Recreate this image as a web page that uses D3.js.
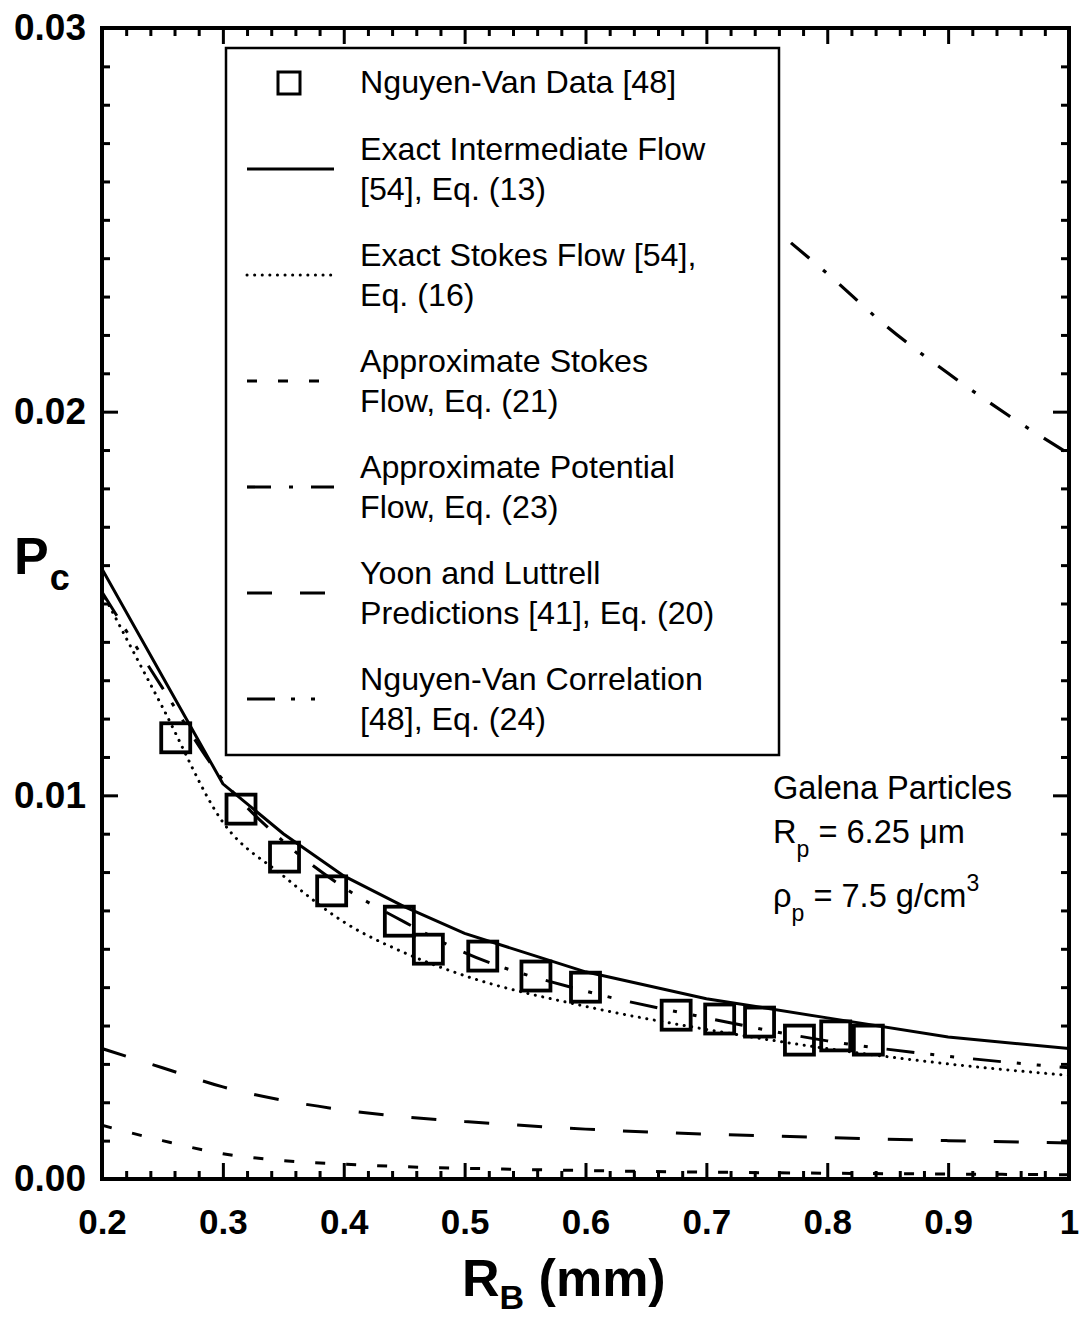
<!DOCTYPE html>
<html>
<head>
<meta charset="utf-8">
<script src="https://cdn.jsdelivr.net/npm/d3@7"></script>
<style>
  html, body { margin: 0; padding: 0; background: #fff; }
  svg { display: block; font-family: "Liberation Sans", Arial, sans-serif; }
</style>
</head>
<body>
<div id="container"></div>
<script>
// chart size
const width = 1084;
const height = 1317;

// bubble radius R_B (mm) where the curves are read
const rbGrid = [0.2, 0.25, 0.3, 0.35, 0.4, 0.45, 0.5, 0.6, 0.7, 0.8, 0.9, 1.0];

// P_c values, one per rbGrid entry
const exactIntermediate = [0.0159, 0.0131, 0.0103, 0.0090, 0.0079, 0.0071, 0.0064, 0.0054, 0.0047, 0.0042, 0.0037, 0.0034];
const exactStokes       = [0.0153, 0.0123, 0.0093, 0.0079, 0.0067, 0.0059, 0.0053, 0.0045, 0.0039, 0.0034, 0.0030, 0.0027];
const approxStokes      = [0.0014, 0.0010, 0.00066, 0.00048, 0.00039, 0.00032, 0.00028, 0.00022, 0.00018, 0.00015, 0.00013, 0.00011];
const yoonLuttrell      = [0.0034, 0.0029, 0.0024, 0.00205, 0.0018, 0.00162, 0.0015, 0.0013, 0.00117, 0.00108, 0.0010, 0.00094];
const nguyenCorrelation = [0.0153, 0.0128, 0.0104, 0.0088, 0.0076, 0.0067, 0.0059, 0.0049, 0.0042, 0.0036, 0.0032, 0.0029];

// approximate potential flow only shows up in the top right corner
const rbPotential = [0.77, 0.8, 0.85, 0.9, 0.95, 1.0];
const approxPotential = [0.0244, 0.0236, 0.0222, 0.0210, 0.0199, 0.0189];

// Nguyen-Van experimental points
const dataRb = [0.261, 0.315, 0.351, 0.390, 0.446, 0.470, 0.515, 0.559, 0.600, 0.675, 0.711, 0.744, 0.777, 0.807, 0.834];
const dataPc = [0.0115, 0.00964, 0.00839, 0.00751, 0.00672, 0.00599, 0.00581, 0.00529, 0.00500, 0.00427, 0.00417, 0.00409, 0.00362, 0.00373, 0.00362];

// axis ticks
const xTicks = [0.2, 0.3, 0.4, 0.5, 0.6, 0.7, 0.8, 0.9, 1.0];
const xTickLabels = ['0.2', '0.3', '0.4', '0.5', '0.6', '0.7', '0.8', '0.9', '1'];
const yTicks = [0, 0.01, 0.02, 0.03];
const yTickLabels = ['0.00', '0.01', '0.02', '0.03'];

// legend entries
const legendLabels = [
  ['Nguyen-Van Data [48]'],
  ['Exact Intermediate Flow', '[54], Eq. (13)'],
  ['Exact Stokes Flow [54],', 'Eq. (16)'],
  ['Approximate Stokes', 'Flow, Eq. (21)'],
  ['Approximate Potential', 'Flow, Eq. (23)'],
  ['Yoon and Luttrell', 'Predictions [41], Eq. (20)'],
  ['Nguyen-Van Correlation', '[48], Eq. (24)']
];

// plot frame
const plotLeft = 102, plotRight = 1069, plotTop = 28, plotBottom = 1179;

const x = d3.scaleLinear().domain([0.2, 1.0]).range([plotLeft, plotRight]);
const y = d3.scaleLinear().domain([0, 0.03]).range([plotBottom, plotTop]);

const svg = d3.select('#container')
  .append('svg')
  .attr('width', width)
  .attr('height', height);

// line styles (dash patterns)
const styles = {
  solid:   { dash: null, cap: 'butt', w: 3 },
  dotted:  { dash: '0.1,7.5', cap: 'round', w: 3 },
  short:   { dash: '10,21', cap: 'butt', w: 3 },
  dashDot: { dash: '24,18,4,18', cap: 'butt', w: 3.2 },
  long:    { dash: '25,28', cap: 'butt', w: 3 },
  dashDotDot: { dash: '28,16,4,16,4,19', cap: 'butt', w: 3 }
};

const series = [
  { xs: rbGrid, ys: exactIntermediate, s: styles.solid },
  { xs: rbGrid, ys: exactStokes, s: styles.dotted },
  { xs: rbGrid, ys: approxStokes, s: styles.short },
  { xs: rbPotential, ys: approxPotential, s: styles.dashDot },
  { xs: rbGrid, ys: yoonLuttrell, s: styles.long },
  { xs: rbGrid, ys: nguyenCorrelation, s: styles.dashDotDot }
];

svg.append('clipPath').attr('id', 'plotclip')
  .append('rect')
  .attr('x', plotLeft).attr('y', plotTop)
  .attr('width', plotRight - plotLeft).attr('height', plotBottom - plotTop);

const plot = svg.append('g').attr('clip-path', 'url(#plotclip)');

series.forEach((d, i) => {
  const pts = d.xs.map((v, j) => [v, d.ys[j]]);
  const line = d3.line()
    .x(p => x(p[0]))
    .y(p => y(p[1]))
    .curve(i === 0 ? d3.curveLinear : d3.curveMonotoneX);
  plot.append('path')
    .attr('d', line(pts))
    .attr('fill', 'none')
    .attr('stroke', '#000')
    .attr('stroke-width', d.s.w)
    .attr('stroke-linecap', d.s.cap)
    .attr('stroke-dasharray', d.s.dash);
});

// data squares
const sq = 29;
plot.selectAll('.pt')
  .data(dataRb.map((v, i) => [v, dataPc[i]]))
  .enter().append('rect')
  .attr('class', 'pt')
  .attr('x', d => x(d[0]) - sq / 2)
  .attr('y', d => y(d[1]) - sq / 2)
  .attr('width', sq)
  .attr('height', sq)
  .attr('fill', 'none')
  .attr('stroke', '#000')
  .attr('stroke-width', 3.8);

// ticks on all four sides, pointing inward
const xMinor = d3.range(0.2, 1.0001, 0.02).filter(v => Math.abs(Math.round(v * 10) - v * 10) > 1e-6);
const yMinor = d3.range(0, 0.03001, 0.001).filter(v => Math.abs(Math.round(v * 100) - v * 100) > 1e-6);

function tickAxis(gen, scale, values, size, transform) {
  const g = svg.append('g')
    .attr('transform', transform)
    .call(gen(scale).tickValues(values).tickSize(-size).tickFormat(''));
  g.select('.domain').remove();
  g.selectAll('line').attr('stroke-width', 3);
  return g;
}

tickAxis(d3.axisBottom, x, xMinor, 8, `translate(0,${plotBottom})`);
tickAxis(d3.axisTop, x, xMinor, 8, `translate(0,${plotTop})`);
tickAxis(d3.axisLeft, y, yMinor, 8, `translate(${plotLeft},0)`);
tickAxis(d3.axisRight, y, yMinor, 8, `translate(${plotRight},0)`);
tickAxis(d3.axisTop, x, xTicks, 16, `translate(0,${plotTop})`);
tickAxis(d3.axisRight, y, yTicks, 16, `translate(${plotRight},0)`);

// labelled axes
const xAxis = svg.append('g')
  .attr('transform', `translate(0,${plotBottom})`)
  .call(d3.axisBottom(x).tickValues(xTicks).tickSize(-16).tickPadding(30)
    .tickFormat((d, i) => xTickLabels[i]));
xAxis.select('.domain').remove();
xAxis.selectAll('line').attr('stroke-width', 3);
xAxis.selectAll('text')
  .attr('font-size', 35).attr('font-weight', 'bold')
  .attr('font-family', '"Liberation Sans", Arial, sans-serif')
  .attr('fill', '#000');

const yAxis = svg.append('g')
  .attr('transform', `translate(${plotLeft},0)`)
  .call(d3.axisLeft(y).tickValues(yTicks).tickSize(-16).tickPadding(16)
    .tickFormat((d, i) => yTickLabels[i]));
yAxis.select('.domain').remove();
yAxis.selectAll('line').attr('stroke-width', 3);
yAxis.selectAll('text')
  .attr('font-size', 37).attr('font-weight', 'bold')
  .attr('font-family', '"Liberation Sans", Arial, sans-serif')
  .attr('fill', '#000');

// frame
svg.append('rect')
  .attr('x', plotLeft).attr('y', plotTop)
  .attr('width', plotRight - plotLeft).attr('height', plotBottom - plotTop)
  .attr('fill', 'none')
  .attr('stroke', '#000')
  .attr('stroke-width', 4);

// axis titles
const xt = svg.append('text')
  .attr('x', 462).attr('y', 1296)
  .attr('font-size', 52).attr('font-weight', 'bold');
xt.append('tspan').text('R');
xt.append('tspan').attr('font-size', 34).attr('dy', 13).text('B');
xt.append('tspan').attr('dy', -13).text(' (mm)');

const yt = svg.append('text')
  .attr('x', 14).attr('y', 574)
  .attr('font-size', 52).attr('font-weight', 'bold');
yt.append('tspan').text('P');
yt.append('tspan').attr('font-size', 36).attr('dy', 16).attr('dx', 1).text('c');

// legend
const legend = svg.append('g');
legend.append('rect')
  .attr('x', 226).attr('y', 48)
  .attr('width', 779 - 226).attr('height', 755 - 48)
  .attr('fill', '#fff')
  .attr('stroke', '#000')
  .attr('stroke-width', 2.5);

const legendStyles = [null, styles.solid, styles.dotted, styles.short, styles.dashDot, styles.long, styles.dashDotDot];

legendLabels.forEach((lines, i) => {
  const base = i === 0 ? 93 : 160 + (i - 1) * 106;
  const sy = i === 0 ? 83 : base + 9;
  if (i === 0) {
    legend.append('rect')
      .attr('x', 289 - 11).attr('y', sy - 11)
      .attr('width', 22).attr('height', 22)
      .attr('fill', 'none').attr('stroke', '#000').attr('stroke-width', 3);
  } else {
    const s = legendStyles[i];
    legend.append('line')
      .attr('x1', 247).attr('x2', 334)
      .attr('y1', sy).attr('y2', sy)
      .attr('stroke', '#000')
      .attr('stroke-width', s.w)
      .attr('stroke-linecap', s.cap)
      .attr('stroke-dasharray', s.dash);
  }
  lines.forEach((t, k) => {
    legend.append('text')
      .attr('x', 360).attr('y', base + k * 40)
      .attr('font-size', 32.2)
      .text(t);
  });
});

// annotation
svg.append('text').attr('x', 773).attr('y', 799).attr('font-size', 32.6).text('Galena Particles');

const rp = svg.append('text').attr('x', 773).attr('y', 843).attr('font-size', 32.6);
rp.append('tspan').text('R');
rp.append('tspan').attr('font-size', 23).attr('dy', 14).text('p');
rp.append('tspan').attr('dy', -14).text(' = 6.25 \u03bcm');

const rho = svg.append('text').attr('x', 773).attr('y', 907).attr('font-size', 32.6);
rho.append('tspan').text('\u03c1');
rho.append('tspan').attr('font-size', 23).attr('dy', 14).text('p');
rho.append('tspan').attr('dy', -14).text(' = 7.5 g/cm');
rho.append('tspan').attr('font-size', 23).attr('dy', -16).text('3');
</script>
</body>
</html>
